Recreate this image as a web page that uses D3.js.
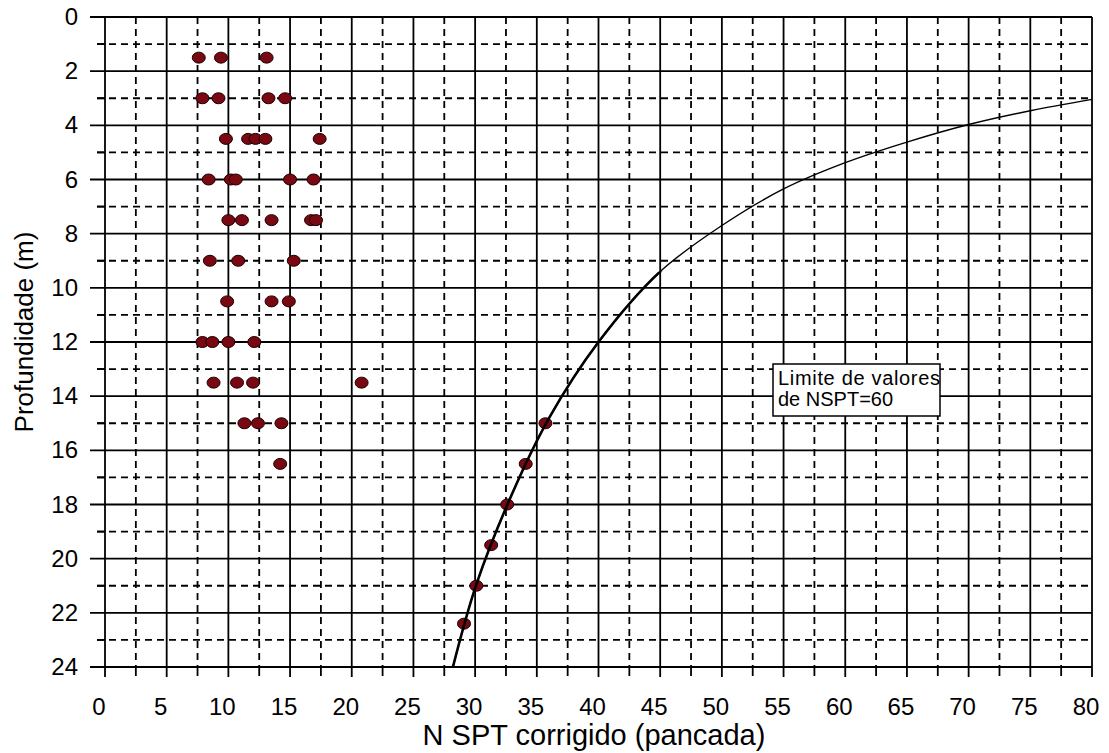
<!DOCTYPE html>
<html>
<head>
<meta charset="utf-8">
<script src="https://d3js.org/d3.v7.min.js"></script>
<style>
  body { margin: 0; background: #fff; }
  text { font-family: Arial, "Liberation Sans", sans-serif; fill: #000; }
</style>
</head>
<body>
<script>
// measured points (N SPT corrigido, profundidade)
const pointN = [
  7.6, 9.4, 13.1,
  7.9, 9.2, 13.25, 14.6,
  9.8, 11.6, 12.2, 13.0, 17.4,
  8.4, 10.2, 10.6, 15.0, 16.9,
  10.0, 11.1, 13.5, 16.7, 17.1,
  8.5, 10.8, 15.3,
  9.9, 13.5, 14.9,
  7.9, 8.7, 10.0, 12.1,
  8.8, 10.7, 12.0, 20.8,
  11.3, 12.4, 14.3,
  14.2,
  35.7, 34.1, 32.6, 31.3, 30.1, 29.1
];
const pointDepth = [
  1.5, 1.5, 1.5,
  3, 3, 3, 3,
  4.5, 4.5, 4.5, 4.5, 4.5,
  6, 6, 6, 6, 6,
  7.5, 7.5, 7.5, 7.5, 7.5,
  9, 9, 9,
  10.5, 10.5, 10.5,
  12, 12, 12, 12,
  13.5, 13.5, 13.5, 13.5,
  15, 15, 15,
  16.5,
  15, 16.5, 18, 19.5, 21, 22.4
];

// limit curve NSPT = 60
const curveN = [80, 75, 70, 65, 60, 55, 50, 45, 40, 36, 33, 30.1, 28.2];
const curveDepth = [3.04, 3.46, 3.97, 4.62, 5.38, 6.35, 7.7, 9.4, 12.0, 14.8, 17.6, 20.95, 24.0];

const xTickValues = [0, 5, 10, 15, 20, 25, 30, 35, 40, 45, 50, 55, 60, 65, 70, 75, 80];
const xMinorValues = [2.5, 7.5, 12.5, 17.5, 22.5, 27.5, 32.5, 37.5, 42.5, 47.5, 52.5, 57.5, 62.5, 67.5, 72.5, 77.5];
const yTickValues = [0, 2, 4, 6, 8, 10, 12, 14, 16, 18, 20, 22, 24];
const yMinorValues = [1, 3, 5, 7, 9, 11, 13, 15, 17, 19, 21, 23];

const W = 1109, H = 753;
const pLeft = 105, pRight = 1092, pTop = 17, pBottom = 667;

const x = d3.scaleLinear().domain([0, 80]).range([pLeft, pRight]);
const y = d3.scaleLinear().domain([0, 24]).range([pTop, pBottom]);

const svg = d3.select("body").append("svg")
  .attr("width", W).attr("height", H);

svg.append("rect").attr("width", W).attr("height", H).attr("fill", "#fff");

// grid
const grid = svg.append("g");
grid.selectAll(".vmin").data(xMinorValues).enter().append("line")
  .attr("x1", d => x(d)).attr("x2", d => x(d))
  .attr("y1", pTop).attr("y2", pBottom)
  .attr("stroke", "#000").attr("stroke-width", 1.8).attr("stroke-dasharray", "7,5");
grid.selectAll(".hmin").data(yMinorValues).enter().append("line")
  .attr("x1", pLeft - 8).attr("x2", pRight)
  .attr("y1", d => y(d)).attr("y2", d => y(d))
  .attr("stroke", "#000").attr("stroke-width", 1.8).attr("stroke-dasharray", "7,5");
grid.selectAll(".vmaj").data(xTickValues).enter().append("line")
  .attr("x1", d => x(d)).attr("x2", d => x(d))
  .attr("y1", pTop).attr("y2", pBottom + 10)
  .attr("stroke", "#000").attr("stroke-width", 1.8);
grid.selectAll(".hmaj").data(yTickValues).enter().append("line")
  .attr("x1", pLeft - 15).attr("x2", pRight)
  .attr("y1", d => y(d)).attr("y2", d => y(d))
  .attr("stroke", "#000").attr("stroke-width", 1.8);
// minor ticks below the axis
grid.selectAll(".vtick").data(xMinorValues).enter().append("line")
  .attr("x1", d => x(d)).attr("x2", d => x(d))
  .attr("y1", pBottom).attr("y2", pBottom + 9)
  .attr("stroke", "#000").attr("stroke-width", 1.8);
// minor ticks left of the axis
grid.selectAll(".htick").data(yMinorValues).enter().append("line")
  .attr("x1", pLeft - 8).attr("x2", pLeft)
  .attr("y1", d => y(d)).attr("y2", d => y(d))
  .attr("stroke", "#000").attr("stroke-width", 1.8);

// tick labels
svg.append("g").selectAll("text").data(xTickValues).enter().append("text")
  .attr("x", d => x(d) - 6).attr("y", 715)
  .attr("text-anchor", "middle").attr("font-size", 24)
  .text(d => d);
svg.append("g").selectAll("text").data(yTickValues).enter().append("text")
  .attr("x", 78).attr("y", d => y(d) + 8)
  .attr("text-anchor", "end").attr("font-size", 24)
  .text(d => d);

// axis titles
svg.append("text")
  .attr("x", 594).attr("y", 745)
  .attr("text-anchor", "middle").attr("font-size", 29)
  .text("N SPT corrigido (pancada)");
svg.append("text")
  .attr("transform", "translate(33,332) rotate(-90)")
  .attr("text-anchor", "middle").attr("font-size", 26)
  .text("Profundidade (m)");

// points
svg.append("g").selectAll("ellipse").data(pointN).enter().append("ellipse")
  .attr("cx", d => x(d)).attr("cy", (d, i) => y(pointDepth[i]))
  .attr("rx", 6.5).attr("ry", 5.5)
  .attr("fill", "#7a0812").attr("stroke", "#1a0000").attr("stroke-width", 1);

// limit curve: thin overall, thicker below ~9.4 m
const curvePts = curveN.map((n, i) => [n, curveDepth[i]]);
const line = d3.line().x(d => x(d[0])).y(d => y(d[1])).curve(d3.curveCatmullRom.alpha(0.5));
svg.append("clipPath").attr("id", "lower")
  .append("rect").attr("x", 0).attr("y", y(9.4)).attr("width", W).attr("height", H);
svg.append("path").datum(curvePts)
  .attr("d", line).attr("fill", "none").attr("stroke", "#000").attr("stroke-width", 1.4);
svg.append("path").datum(curvePts)
  .attr("clip-path", "url(#lower)")
  .attr("d", line).attr("fill", "none").attr("stroke", "#000").attr("stroke-width", 2.6);

// text box
const bx = 773, by = 364;
svg.append("rect").attr("x", bx).attr("y", by).attr("width", 167).attr("height", 52)
  .attr("fill", "#fff").attr("stroke", "#000").attr("stroke-width", 1.5);
svg.append("text").attr("x", bx + 5).attr("y", by + 21).attr("font-size", 20).attr("textLength", 162)
  .text("Limite de valores");
svg.append("text").attr("x", bx + 5).attr("y", by + 42).attr("font-size", 20)
  .text("de NSPT=60");
</script>
</body>
</html>
